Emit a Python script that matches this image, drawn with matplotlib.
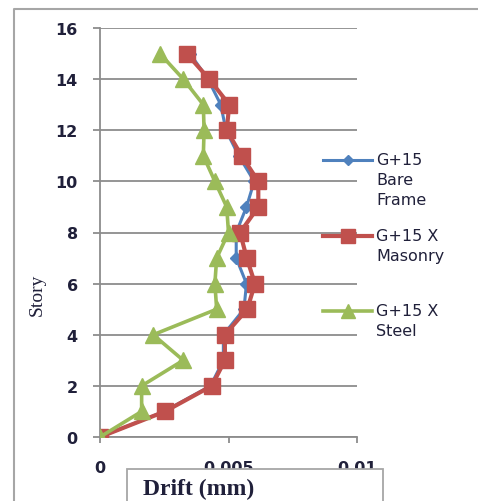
import matplotlib
matplotlib.use("Agg")
import matplotlib.pyplot as plt
from matplotlib.lines import Line2D
from matplotlib.patches import Rectangle
from matplotlib.ticker import FuncFormatter

# storey drift per level, read top-down as 0..15
stories = list(range(16))
bare_frame = [0, 0.0025, 0.0043, 0.0048, 0.0048, 0.0056, 0.0057, 0.0053,
              0.0053, 0.0057, 0.0060, 0.0054, 0.0049, 0.0047, 0.0042, 0.0035]
x_masonry = [0, 0.00253, 0.00435, 0.00486, 0.00486, 0.00573, 0.00603, 0.00571,
             0.00545, 0.00616, 0.00616, 0.00551, 0.00493, 0.00503, 0.00425, 0.00337]
x_steel = [0, 0.00162, 0.00162, 0.00324, 0.00207, 0.00454, 0.00447, 0.00454,
           0.00500, 0.00493, 0.00447, 0.00402, 0.00405, 0.00402, 0.00324, 0.00233]

x_ticks = [0, 0.005, 0.01]
y_ticks = list(range(0, 17, 2))

series = [
    ("G+15\nBare\nFrame", bare_frame, "#4F81BD", "D", 6, 2.2),
    ("G+15 X\nMasonry", x_masonry, "#C0504D", "s", 11.5, 3.0),
    ("G+15 X\nSteel", x_steel, "#9BBB59", "^", 11.5, 2.6),
]

W, H = 478, 502
fig = plt.figure(figsize=(W / 100, H / 100), dpi=100)
ax = fig.add_axes([100 / W, 1 - 438 / H, 257 / W, 409 / H])

grid_col = "#8c8c8c"
txt_col = "#20203a"

for label, vals, col, mk, ms, lw in series:
    ax.plot(vals, stories, color=col, marker=mk, markersize=ms, lw=lw,
            markeredgecolor=col, zorder=3)

ax.set_xlim(0, 0.01)
ax.set_ylim(0, 16)
ax.set_xticks(x_ticks)
ax.set_yticks(y_ticks)
ax.xaxis.set_major_formatter(FuncFormatter(lambda v, p: f"{v:g}"))
ax.yaxis.grid(True, color=grid_col, lw=1.3)
ax.set_axisbelow(True)
for s in ("top", "right"):
    ax.spines[s].set_visible(False)
for s in ("left", "bottom"):
    ax.spines[s].set_color(grid_col)
    ax.spines[s].set_linewidth(1.3)
ax.tick_params(axis="y", direction="out", length=5, width=1.3, color=grid_col,
               pad=11, labelsize=11.5, labelcolor=txt_col)
ax.tick_params(axis="x", direction="out", length=4.5, width=1.3, color=grid_col,
               pad=12, labelsize=11.5, labelcolor=txt_col)
for lab in ax.get_xticklabels() + ax.get_yticklabels():
    lab.set_fontweight("bold")

fig.text(37 / W, 1 - 295 / H, "Story", rotation=90, ha="center", va="center",
         family="Liberation Serif", fontsize=14, color=txt_col)

# outer chart frame (left and top edges only)
fig.add_artist(Line2D([14 / W, 14 / W, 1.1], [-0.1, 1 - 10 / H, 1 - 10 / H],
                      color="#a6a6a6", lw=1.5, transform=fig.transFigure))

# boxed x-axis title
fig.add_artist(Rectangle((127 / W, -0.02), 256 / W, 0.02 + 32 / H,
                         transform=fig.transFigure, facecolor="white",
                         edgecolor="#a6a6a6", lw=1.3, zorder=5))
fig.text(143 / W, 1 - 489 / H, "Drift (mm)", ha="left", va="center",
         family="Liberation Serif", fontsize=17, fontweight="bold",
         color=txt_col, zorder=6)

# legend: handle beside the first line of each wrapped label
legend_rows = [161, 237, 312]
for (label, vals, col, mk, ms, lw), yy in zip(series, legend_rows):
    yf = 1 - yy / H
    fig.add_artist(Line2D([323 / W, 372 / W], [yf, yf], color=col, lw=lw,
                          transform=fig.transFigure))
    fig.add_artist(Line2D([348 / W], [yf], color=col, marker=mk,
                          markersize=ms * 0.85, transform=fig.transFigure))
    fig.text(376 / W, yf + 8 / H, label, ha="left", va="top", fontsize=11.5,
             color=txt_col, linespacing=1.4)

fig.savefig("out.png", dpi=100)
